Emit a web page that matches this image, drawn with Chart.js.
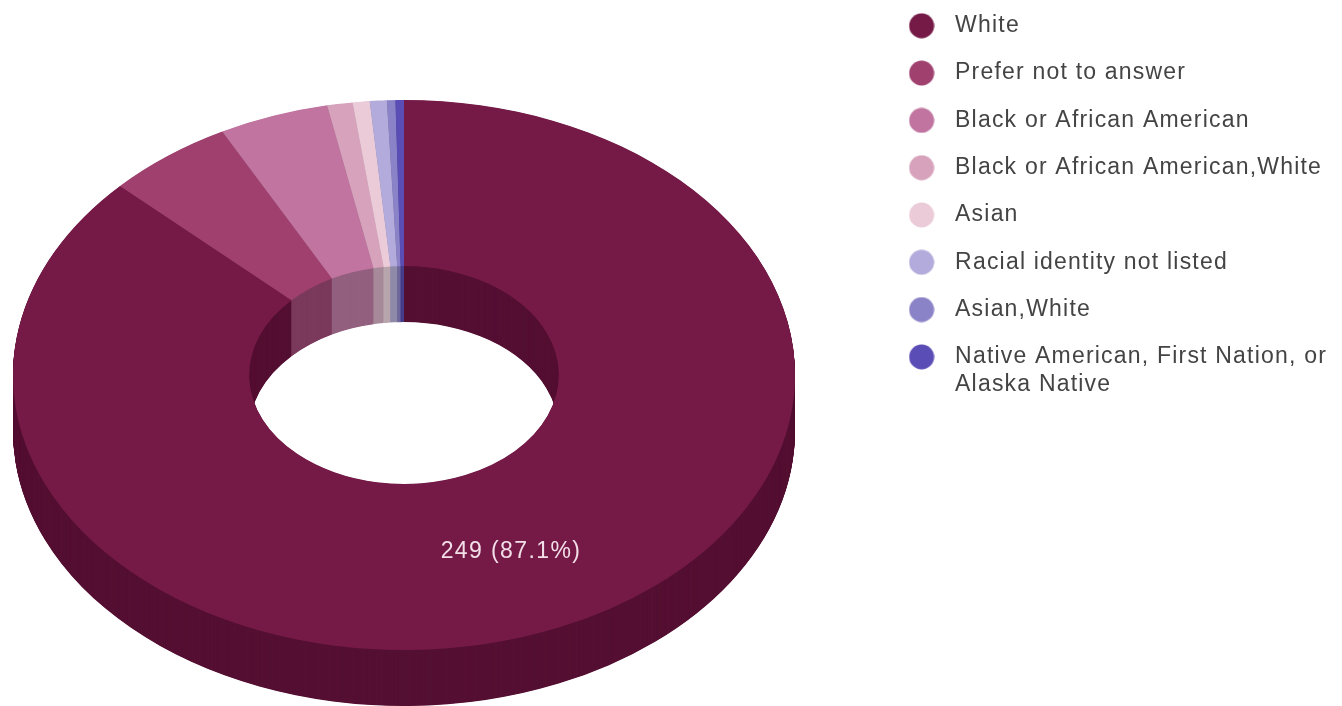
<!DOCTYPE html>
<html>
<head>
<meta charset="utf-8">
<style>
  html, body { margin: 0; padding: 0; background: #fff; overflow: hidden; }
  #wrap { width: 1342px; height: 706px; }
</style>
<script src="https://cdn.jsdelivr.net/npm/chart.js@4"></script>
</head>
<body>
<div id="wrap"><canvas id="race"></canvas></div>
<script>
const categories = [
  "White",
  "Prefer not to answer",
  "Black or African American",
  "Black or African American,White",
  "Asian",
  "Racial identity not listed",
  "Asian,White",
  ["Native American, First Nation, or", "Alaska Native"],
];
const counts = [249, 15, 13, 3, 2, 2, 1, 1];
const sliceColors = ["#751a47", "#a0406f", "#c0749f", "#d7a3bc", "#eccbd9", "#b3abdb", "#8b83c7", "#5a4db5"];
const wallColors = ["#551033", "#7b3a5c", "#93607f", "#a78a9a", "#b8a5ad", "#8f8aa9", "#6e699c", "#463d8c"];

// ellipse of the tilted ring and how far the side wall drops
const ring = { cx: 404, cy: 375, rx: 391, ry: 275, depth: 56 };

const FONT = "'Liberation Sans', Arial, sans-serif";

// legend dots, a fixed size inside a wider legend box
const dots = sliceColors.map((color) => {
  const dot = document.createElement("canvas");
  dot.width = dot.height = 26;
  const g = dot.getContext("2d");
  g.fillStyle = color;
  g.beginPath();
  g.arc(13, 13, 12.5, 0, Math.PI * 2);
  g.fill();
  return dot;
});

// flat doughnut squashed into an ellipse, with the walls built from offset copies
const tiltedRing = {
  id: "tiltedRing",
  beforeLayout(chart) {
    chart.ctx.letterSpacing = "1.2px";
  },
  beforeDatasetsDraw(chart) {
    const arcs = chart.getDatasetMeta(0).data;
    const r = arcs[0].outerRadius;
    const ctx = chart.ctx;
    const tilt = (dy) => {
      ctx.translate(ring.cx, ring.cy + dy);
      ctx.scale(ring.rx / r, ring.ry / r);
      ctx.translate(-arcs[0].x, -arcs[0].y);
    };
    for (let dy = ring.depth; dy > 0; dy -= 0.5) {
      arcs.forEach((arc, i) => {
        const wall = Object.create(arc);
        wall.options = { ...arc.options, backgroundColor: wallColors[i], borderWidth: 0 };
        ctx.save();
        tilt(dy);
        wall.draw(ctx);
        ctx.restore();
      });
    }
    ctx.save();
    tilt(0);
  },
  afterDatasetsDraw(chart) {
    chart.ctx.restore();
  },
  afterDraw(chart) {
    // value label on the biggest slice
    const ctx = chart.ctx;
    const total = counts.reduce((a, b) => a + b, 0);
    const pct = (counts[0] / total * 100).toFixed(1);
    ctx.save();
    ctx.font = "23px " + FONT;
    ctx.letterSpacing = "1.4px";
    ctx.fillStyle = "#f2dfe8";
    ctx.textAlign = "center";
    ctx.textBaseline = "middle";
    ctx.fillText(`${counts[0]} (${pct}%)`, 511, 552);
    ctx.restore();
  },
};

new Chart(document.getElementById("race"), {
  type: "doughnut",
  data: {
    labels: categories,
    datasets: [{
      data: counts,
      backgroundColor: sliceColors,
      borderWidth: 0,
    }],
  },
  options: {
    responsive: true,
    maintainAspectRatio: false,
    animation: false,
    cutout: "39.6%",
    layout: { padding: { top: -10, right: 5 } },
    plugins: {
      tooltip: { enabled: false },
      legend: {
        position: "right",
        align: "start",
        labels: {
          usePointStyle: true,
          pointStyleWidth: 44,
          padding: 24.3,
          color: "#444",
          font: { family: FONT, size: 23, lineHeight: 1.2 },
          generateLabels(chart) {
            const items = Chart.overrides.doughnut.plugins.legend.labels.generateLabels(chart);
            items.forEach((item, i) => { item.pointStyle = dots[i]; });
            return items;
          },
        },
      },
    },
  },
  plugins: [tiltedRing],
});
</script>
</body>
</html>
